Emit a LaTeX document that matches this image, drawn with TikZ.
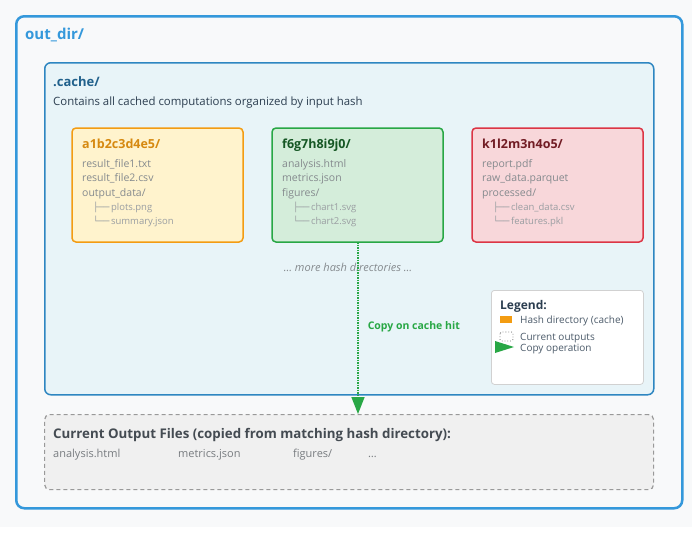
\documentclass[tikz,border=0pt]{standalone}
\usepackage{fontspec}
\setmainfont{Open Sans}
\newfontfamily\treefont{DejaVu Sans}
\usetikzlibrary{arrows.meta}
\definecolor{pagebg}{HTML}{F8F9FA}
\definecolor{outblue}{HTML}{3498DB}
\definecolor{cacheblue}{HTML}{2E86C1}
\definecolor{cachefill}{HTML}{E8F4F8}
\definecolor{cachetext}{HTML}{21618C}
\definecolor{orgline}{HTML}{F39C12}
\definecolor{orgfill}{HTML}{FFF3CD}
\definecolor{orgtext}{HTML}{D68910}
\definecolor{grnline}{HTML}{28A745}
\definecolor{grnfill}{HTML}{D4EDDA}
\definecolor{grntext}{HTML}{155724}
\definecolor{redline}{HTML}{DC3545}
\definecolor{redfill}{HTML}{F8D7DA}
\definecolor{redtext}{HTML}{721C24}
\definecolor{filegray}{HTML}{858A8E}
\definecolor{treegray}{HTML}{9A9EA2}
\definecolor{darktext}{HTML}{2C3E50}
\definecolor{outtext}{HTML}{444B52}
\newcommand{\fsz}[1]{\fontsize{#1}{#1}\selectfont}
\newcommand{\branch}{{\treefont\fsz{9}├──}\,}
\newcommand{\lastbranch}{{\treefont\fsz{9}└──}\,}
\tikzset{
  hashbox/.style={draw, line width=1.5pt, rounded corners=4pt, anchor=north west,
    minimum width=171pt, minimum height=114pt, inner sep=0pt, outer sep=0pt},
  hashtitle/.style={anchor=base west, inner sep=0pt, font=\bfseries\fsz{12.5}},
  filetext/.style={anchor=base west, inner sep=0pt, text=filegray, font=\fsz{10.5}},
  subtext/.style={anchor=base west, inner sep=0pt, text=treegray, font=\fsz{9.5}},
  legtext/.style={anchor=base west, inner sep=0pt, text=darktext!85, font=\fsz{10}},
  outitem/.style={anchor=base west, inner sep=0pt, text=filegray!90!black, font=\fsz{11}}
}
\begin{document}
\begin{tikzpicture}[x=1pt, y=-1pt]
    \useasboundingbox (0,0) rectangle (692,533);
    \fill[white] (0,0) rectangle (692,533);
    \fill[pagebg] (0,0) rectangle (692,527);
    % outer directory
    \node[draw=outblue, fill=pagebg, line width=2.5pt, rounded corners=8pt, anchor=north west,
        minimum width=666pt, minimum height=492pt, inner sep=0pt] (outdir) at (15,15) {};
    \node[anchor=base west, inner sep=0pt, text=outblue, font=\bfseries\fsz{15}] (outdirlabel) at (25,39) {out\_dir/};
    % cache directory
    \node[draw=cacheblue, fill=cachefill, line width=1.5pt, rounded corners=6pt, anchor=north west,
        minimum width=609pt, minimum height=332pt, inner sep=0pt] (cache) at (44,62) {};
    \node[anchor=base west, inner sep=0pt, text=cachetext, font=\bfseries\fsz{13}] (cachelabel) at (53,86) {.cache/};
    \node[anchor=base west, inner sep=0pt, text=darktext, font=\fsz{11.4}] (cachenote) at (53,105)
        {Contains all cached computations organized by input hash};
    % hash directories
    \node[hashbox, draw=orgline, fill=orgfill] (hashA) at (72,128) {};
    \node[hashtitle, text=orgtext] (hashAtitle) at (82,148) {a1b2c3d4e5/};
    \node[filetext] at (82,167) {result\_file1.txt};
    \node[filetext] at (82,181) {result\_file2.csv};
    \node[filetext] at (82,196) {output\_data/};
    \node[subtext] at (93,210) {\branch plots.png};
    \node[subtext] at (93,224) {\lastbranch summary.json};

    \node[hashbox, draw=grnline, fill=grnfill] (hashB) at (272,128) {};
    \node[hashtitle, text=grntext] (hashBtitle) at (282,148) {f6g7h8i9j0/};
    \node[filetext] at (282,167) {analysis.html};
    \node[filetext] at (282,181) {metrics.json};
    \node[filetext] at (282,196) {figures/};
    \node[subtext] at (293,210) {\branch chart1.svg};
    \node[subtext] at (293,224) {\lastbranch chart2.svg};

    \node[hashbox, draw=redline, fill=redfill] (hashC) at (472,128) {};
    \node[hashtitle, text=redtext] (hashCtitle) at (482,148) {k1l2m3n4o5/};
    \node[filetext] at (482,167) {report.pdf};
    \node[filetext] at (482,181) {raw\_data.parquet};
    \node[filetext] at (482,196) {processed/};
    \node[subtext] at (493,210) {\branch clean\_data.csv};
    \node[subtext] at (493,224) {\lastbranch features.pkl};

    \node[text=filegray, font=\itshape\fsz{11}, inner sep=0pt] (more) at (348,267) {\ldots\ more hash directories \ldots};
    % legend
    \node[draw=black!18, fill=white, line width=0.8pt, rounded corners=3pt, anchor=north west,
        minimum width=152pt, minimum height=94pt, inner sep=0pt] (legend) at (491,290) {};
    \node[anchor=base west, inner sep=0pt, text=darktext, font=\bfseries\fsz{12}] (legendtitle) at (500,309) {Legend:};
    \fill[orgline] (500,316) rectangle (512,323);
    \node[legtext] (legA) at (520,323) {Hash directory (cache)};
    \draw[black!55, dotted, line width=0.8pt, rounded corners=1.5pt] (500,332) rectangle (513,341);
    \node[legtext] (legB) at (520,340) {Current outputs};
    \fill[grnline] (495,341) -- (514,347) -- (495,353) -- cycle;
    \node[legtext] (legC) at (520,351) {Copy operation};
    % current outputs
    \node[draw=black!40, fill=black!6, dashed, dash pattern=on 4pt off 3pt, line width=1.2pt,
        rounded corners=5pt, anchor=north west, minimum width=609pt, minimum height=75pt,
        inner sep=0pt] (current) at (44,414) {};
    \node[anchor=base west, inner sep=0pt, text=outtext, font=\bfseries\fsz{13.3}] (currenttitle) at (53,438)
        {Current Output Files (copied from matching hash directory):};
    \node[outitem] at (53,457) {analysis.html};
    \node[outitem] at (178,457) {metrics.json};
    \node[outitem] at (293,457) {figures/};
    \node[outitem] at (368,457) {\ldots};
    % copy arrow
    \draw[grnline, densely dotted, line width=1.5pt, -{Triangle[width=13pt, length=17pt]}]
        ([xshift=0.5pt]hashB.south) -- ([xshift=0.5pt]hashB.south |- current.north)
        node[pos=0.49, right=9pt, inner sep=0pt, font=\bfseries\fsz{10.5}, text=grnline] {Copy on cache hit};
\end{tikzpicture}
\end{document}
